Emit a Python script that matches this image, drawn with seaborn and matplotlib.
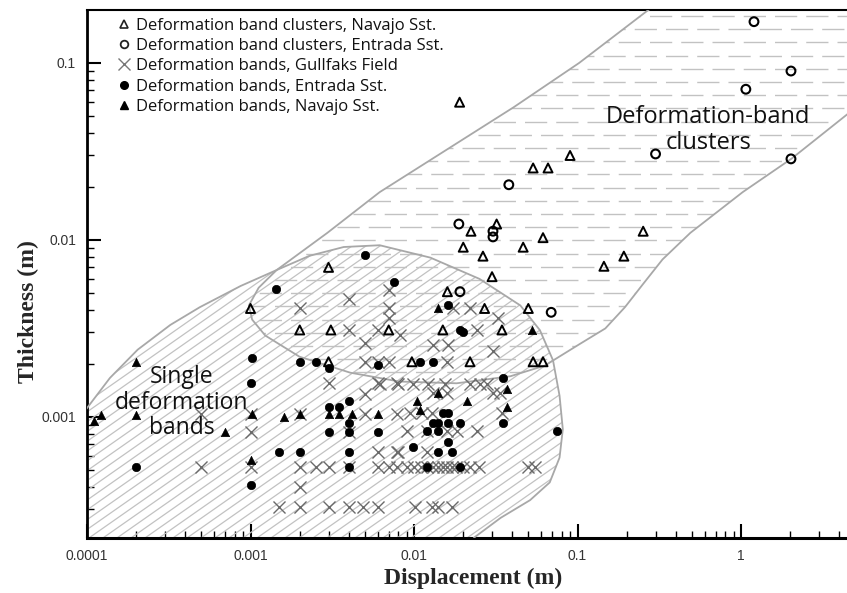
import numpy as np
import matplotlib
matplotlib.use("Agg")
import matplotlib.pyplot as plt
import seaborn as sns
from matplotlib.patches import Polygon
from matplotlib.collections import LineCollection
from matplotlib.lines import Line2D
from matplotlib.ticker import LogLocator, NullFormatter, FixedLocator, FixedFormatter

sns.set_theme(style="white")
plt.rcParams['font.family'] = ['DejaVu Sans']

# ---------------- data (displacement m, thickness m) ----------------
navajo_cluster_disp = [0.019, 0.090, 0.0535, 0.066, 0.0223, 0.032, 0.020, 0.0264, 0.0465, 0.0615,
                       0.252, 0.192, 0.145, 0.030, 0.016, 0.027, 0.050, 0.015, 0.0345, 0.022,
                       0.0535, 0.0615, 0.0097, 0.0070, 0.0030, 0.0010, 0.0020, 0.0031, 0.0030]
navajo_cluster_thick = [0.060, 0.030, 0.0255, 0.0255, 0.0112, 0.0123, 0.0091, 0.0081, 0.0091, 0.0103,
                        0.0112, 0.0081, 0.0071, 0.0062, 0.0051, 0.0041, 0.0041, 0.0031, 0.0031, 0.00205,
                        0.00205, 0.00205, 0.00205, 0.0031, 0.0070, 0.0041, 0.0031, 0.0031, 0.00205]

entrada_cluster_disp = [1.20, 2.02, 1.07, 0.30, 2.02, 0.038, 0.0188, 0.0304, 0.0304, 0.0191, 0.069]
entrada_cluster_thick = [0.171, 0.090, 0.071, 0.0306, 0.0287, 0.0205, 0.0123, 0.0112, 0.0104, 0.0051, 0.0039]

gullfaks_disp = [0.002, 0.004, 0.007, 0.007, 0.007, 0.006, 0.004, 0.005, 0.005, 0.006, 0.007,
                 0.003, 0.006, 0.0079, 0.005, 0.005, 0.0079, 0.0005, 0.001, 0.006, 0.0079,
                 0.0005, 0.001, 0.002, 0.0025, 0.003, 0.002,
                 0.0015, 0.002, 0.003, 0.004, 0.0049, 0.006,
                 0.001, 0.002, 0.004, 0.004, 0.006, 0.007, 0.0079,
                 0.0173, 0.022, 0.0327, 0.0082, 0.0243, 0.0131, 0.0161, 0.0304, 0.016,
                 0.0062, 0.0080, 0.0099, 0.0122, 0.0155, 0.022, 0.0254, 0.0279,
                 0.0131, 0.016, 0.0304, 0.0336,
                 0.0095, 0.0112, 0.0129, 0.0345,
                 0.0091, 0.012, 0.016, 0.0183, 0.0243,
                 0.0080, 0.012,
                 0.009, 0.010, 0.011, 0.012, 0.013, 0.014, 0.015, 0.016, 0.017, 0.018, 0.020,
                 0.022, 0.025, 0.050, 0.055,
                 0.0101, 0.0129, 0.014, 0.0171]
gullfaks_thick = [0.0041, 0.00465, 0.0052, 0.0041, 0.0036, 0.0031, 0.0031, 0.0026, 0.00205, 0.00205, 0.00205,
                  0.00156, 0.00156, 0.00156, 0.00135, 0.00104, 0.00104, 0.00104, 0.00082, 0.00063, 0.00063,
                  0.00052, 0.00052, 0.00052, 0.00052, 0.00052, 0.0004,
                  0.00031, 0.00031, 0.00031, 0.00031, 0.00031, 0.00031,
                  0.00104, 0.00104, 0.00082, 0.00052, 0.00052, 0.00052, 0.00052,
                  0.0041, 0.0041, 0.0036, 0.0029, 0.0031, 0.00255, 0.00255, 0.00236, 0.00205,
                  0.00154, 0.00154, 0.00154, 0.00154, 0.00154, 0.00154, 0.00154, 0.00154,
                  0.00137, 0.00137, 0.00137, 0.00137,
                  0.00105, 0.00105, 0.00105, 0.00105,
                  0.00083, 0.00083, 0.00083, 0.00083, 0.00083,
                  0.00063, 0.00063,
                  0.00052, 0.00052, 0.00052, 0.00052, 0.00052, 0.00052, 0.00052, 0.00052, 0.00052, 0.00052, 0.00052,
                  0.00052, 0.00052, 0.00052, 0.00052,
                  0.00031, 0.00031, 0.00031, 0.00031]

entrada_band_disp = [0.0050, 0.00143, 0.00755, 0.00102, 0.002, 0.00252, 0.003, 0.006, 0.001, 0.003,
                     0.0035, 0.004, 0.004, 0.003, 0.006, 0.004, 0.0015, 0.002, 0.004, 0.0002,
                     0.004, 0.001, 0.0161, 0.0191, 0.020, 0.0109, 0.0131, 0.035, 0.015, 0.0161,
                     0.0131, 0.014, 0.0161, 0.0191, 0.035, 0.012, 0.014, 0.075, 0.0161, 0.0099,
                     0.014, 0.0171, 0.012, 0.0191]
entrada_band_thick = [0.0082, 0.0053, 0.0058, 0.00215, 0.00205, 0.00205, 0.00189, 0.00197, 0.00156, 0.00114,
                      0.00114, 0.00123, 0.00092, 0.00082, 0.00082, 0.00082, 0.00063, 0.00063, 0.00063, 0.00052,
                      0.00052, 0.00041, 0.0043, 0.0031, 0.0030, 0.00205, 0.00205, 0.00166, 0.00105, 0.00105,
                      0.00092, 0.00092, 0.00092, 0.00092, 0.00092, 0.00083, 0.00083, 0.00083, 0.00072, 0.00068,
                      0.00063, 0.00063, 0.00052, 0.00052]

navajo_band_disp = [0.0002, 0.000122, 0.00011, 0.0002, 0.0007, 0.00102, 0.0016, 0.002, 0.003, 0.0035,
                    0.0042, 0.006, 0.001, 0.014, 0.0527, 0.014, 0.0104, 0.0211, 0.037, 0.037, 0.0109]
navajo_band_thick = [0.00205, 0.00103, 0.00095, 0.00103, 0.00082, 0.00104, 0.0010, 0.00104, 0.00104, 0.00104,
                     0.00104, 0.00104, 0.00057, 0.0041, 0.0031, 0.00137, 0.00123, 0.00123, 0.00144, 0.00114, 0.0011]

series_labels = ["Deformation band clusters, Navajo Sst.",
                 "Deformation band clusters, Entrada Sst.",
                 "Deformation bands, Gullfaks Field",
                 "Deformation bands, Entrada Sst.",
                 "Deformation bands, Navajo Sst."]

# region outlines (log10 displacement, log10 thickness)
single_outline_log_x = [-4.29, -4.29, -4.17, -4.00, -3.86, -3.69, -3.49, -3.31, -3.06, -2.84, -2.64, -2.43,
                        -2.21, -1.90, -1.60, -1.35, -1.23, -1.15, -1.11, -1.09, -1.11, -1.17, -1.29, -1.47,
                        -1.63, -1.84, -1.84]
single_outline_log_y = [-4.26, -3.36, -3.16, -2.95, -2.78, -2.62, -2.48, -2.38, -2.26, -2.17, -2.09, -2.04,
                        -2.03, -2.10, -2.22, -2.37, -2.51, -2.68, -2.88, -3.07, -3.23, -3.37, -3.47, -3.57,
                        -3.68, -3.92, -4.26]
cluster_outline_log_x = [-2.84, -2.95, -3.01, -2.99, -2.91, -2.70, -2.39, -2.09, -1.74, -1.41, -1.20, -0.99,
                         -0.83, -0.71, -0.60, -0.48, -0.31, 0.01, 0.31, 0.65, 1.58, 1.58, 0.54, -0.25, -0.58,
                         -0.99, -1.39, -1.80, -2.21, -2.53]
cluster_outline_log_y = [-2.17, -2.27, -2.37, -2.45, -2.54, -2.66, -2.75, -2.80, -2.81, -2.77, -2.71, -2.59,
                         -2.50, -2.38, -2.25, -2.11, -1.96, -1.73, -1.54, -1.29, -0.67, 0.20, 0.20, -0.49, -0.71,
                         -1.00, -1.25, -1.49, -1.73, -1.96]

# ---------------- figure ----------------
W_PX, H_PX = 847, 593
fig = plt.figure(figsize=(W_PX / 100, H_PX / 100), dpi=100)
fig.patch.set_facecolor('white')
ax_l, ax_r, ax_t, ax_b = 87, 847, 10, 538
ax = fig.add_axes([ax_l / W_PX, 1 - ax_b / H_PX, (ax_r - ax_l) / W_PX, (ax_b - ax_t) / H_PX])
ax.set_facecolor('white')
ax.set_xscale('log')
ax.set_yscale('log')
ax.set_xlim(1e-4, 10 ** 0.648)
ax.set_ylim(10 ** -3.684, 10 ** -0.701)

AW, AH = ax_r - ax_l, ax_b - ax_t
outline_col = '#a8a8a8'
hatch_col = '#c2c2c2'

single_poly = Polygon(np.column_stack([np.power(10.0, single_outline_log_x), np.power(10.0, single_outline_log_y)]),
                      closed=True, facecolor='none', edgecolor=outline_col, lw=1.3, zorder=3)
cluster_poly = Polygon(np.column_stack([np.power(10.0, cluster_outline_log_x), np.power(10.0, cluster_outline_log_y)]),
                       closed=True, facecolor='none', edgecolor=outline_col, lw=1.3, zorder=3)
ax.add_patch(single_poly)
ax.add_patch(cluster_poly)

# diagonal hatch for single bands (axes-fraction lines clipped to region)
t = np.tan(np.radians(35))
segs = []
for c in np.arange(-AH / t, AW, 14.0):
    segs.append([(c / AW, 0.0), ((c + AH / t) / AW, 1.0)])
lc = LineCollection(segs, colors=hatch_col, linewidths=0.9, transform=ax.transAxes, zorder=2)
ax.add_collection(lc)
lc.set_clip_path(single_poly)

# horizontal dashes for clusters
for k, yy in enumerate(np.arange(AH - 6, 0, -13.2)):
    off = 0 if k % 2 == 0 else 11
    ln = Line2D([0, 1], [yy / AH, yy / AH], color=hatch_col, lw=1.0, transform=ax.transAxes,
                linestyle=(off, (16, 6.5)), zorder=2)
    ax.add_line(ln)
    ln.set_clip_path(cluster_poly)

# ---------------- scatter ----------------
sns.scatterplot(x=gullfaks_disp, y=gullfaks_thick, ax=ax, marker='x', color='#6a6a6a', s=75,
                linewidth=1.0, zorder=4)
sns.scatterplot(x=navajo_cluster_disp, y=navajo_cluster_thick, ax=ax, marker='^', facecolor='none',
                edgecolor='black', s=42, linewidth=1.4, zorder=5)
sns.scatterplot(x=entrada_cluster_disp, y=entrada_cluster_thick, ax=ax, marker='o', facecolor='none',
                edgecolor='black', s=40, linewidth=1.5, zorder=5)
sns.scatterplot(x=entrada_band_disp, y=entrada_band_thick, ax=ax, marker='o', color='black',
                edgecolor='black', s=36, linewidth=0.5, zorder=6)
sns.scatterplot(x=navajo_band_disp, y=navajo_band_thick, ax=ax, marker='^', color='black',
                edgecolor='black', s=36, linewidth=0.5, zorder=6)

# ---------------- axes styling ----------------
ax.spines['right'].set_visible(False)
ax.spines['left'].set_linewidth(2.0)
ax.spines['bottom'].set_linewidth(2.2)
ax.spines['top'].set_linewidth(1.5)
for s in ['left', 'bottom', 'top']:
    ax.spines[s].set_color('black')

ax.xaxis.set_major_locator(FixedLocator([1e-4, 1e-3, 1e-2, 1e-1, 1]))
ax.xaxis.set_major_formatter(FixedFormatter(["0.0001", "0.001", "0.01", "0.1", "1"]))
ax.yaxis.set_major_locator(FixedLocator([1e-3, 1e-2, 1e-1]))
ax.yaxis.set_major_formatter(FixedFormatter(["0.001", "0.01", "0.1"]))
ax.xaxis.set_minor_locator(LogLocator(base=10, subs=np.arange(2, 10), numticks=20))
ax.yaxis.set_minor_locator(LogLocator(base=10, subs=np.arange(2, 10), numticks=20))
ax.xaxis.set_minor_formatter(NullFormatter())
ax.yaxis.set_minor_formatter(NullFormatter())
ax.tick_params(which='major', direction='in', length=10, width=1.5, color='black',
               labelsize=10, labelcolor='#333333', pad=8, bottom=True, left=True, top=False, right=False)
ax.tick_params(which='minor', direction='in', length=5, width=1.0, color='black',
               bottom=True, left=True, top=False, right=False)
for lab in ax.get_xticklabels() + ax.get_yticklabels():
    lab.set_fontfamily(['Liberation Sans', 'DejaVu Sans'])
ax.grid(False)

fig.text(473 / W_PX, 1 - 578 / H_PX, "Displacement (m)", ha='center', va='center',
         fontsize=17, fontweight='bold', family=['Liberation Serif', 'DejaVu Serif'])
fig.text(28 / W_PX, 1 - 312 / H_PX, "Thickness (m)", ha='center', va='center', rotation=90,
         fontsize=17, fontweight='bold', family=['Liberation Serif', 'DejaVu Serif'])

# region labels
ax.text(3.8e-4, 1.2e-3, "Single\ndeformation\nbands", ha='center', va='center', fontsize=16.5,
        family=['Open Sans', 'DejaVu Sans'], linespacing=1.08, zorder=7, color='#111111')
ax.text(0.63, 0.0418, "Deformation-band\nclusters", ha='center', va='center', fontsize=17,
        family=['Open Sans', 'DejaVu Sans'], linespacing=1.12, zorder=7, color='#111111')

# legend
handles = [
    Line2D([], [], linestyle='none', marker='^', markerfacecolor='none', markeredgecolor='#222', markersize=6, markeredgewidth=1.2),
    Line2D([], [], linestyle='none', marker='o', markerfacecolor='none', markeredgecolor='#222', markersize=5.5, markeredgewidth=1.3),
    Line2D([], [], linestyle='none', marker='x', color='#777', markersize=8, markeredgewidth=1.0),
    Line2D([], [], linestyle='none', marker='o', color='black', markersize=5.5),
    Line2D([], [], linestyle='none', marker='^', color='black', markersize=5.5),
]
leg = ax.legend(handles, series_labels, loc='upper left', bbox_to_anchor=(0.035, 0.992), frameon=False,
                prop={'family': ['Open Sans', 'DejaVu Sans'], 'size': 12}, handlelength=0.8,
                handletextpad=0.35, labelspacing=0.26, borderpad=0.2, borderaxespad=0.0)
for txt in leg.get_texts():
    txt.set_color('#111111')

fig.savefig("out.png", dpi=100, facecolor='white')
